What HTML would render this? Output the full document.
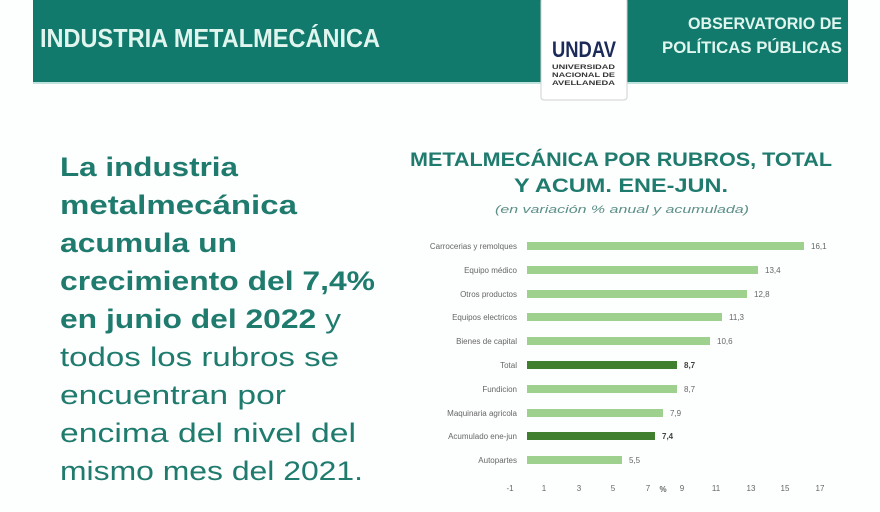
<!DOCTYPE html>
<html><head><meta charset="utf-8"><style>
html,body{margin:0;padding:0;background:#fff;width:880px;height:512px;overflow:hidden}
svg{display:block}
</style></head><body>
<svg width="880" height="512" viewBox="0 0 880 512" xmlns="http://www.w3.org/2000/svg" font-family="Liberation Sans, sans-serif">
<rect x="0" y="0" width="880" height="512" fill="#fdfefe"/>
<rect x="33" y="0" width="815" height="82" fill="#127a6c"/>
<rect x="33" y="82" width="815" height="2" fill="#bfe3dc"/>
<text x="40" y="47" font-size="26" font-weight="bold" fill="#dff5ee" textLength="340" lengthAdjust="spacingAndGlyphs">INDUSTRIA METALMECÁNICA</text>
<text x="842" y="29" font-size="17" font-weight="bold" fill="#dff5ee" text-anchor="end" textLength="154" lengthAdjust="spacingAndGlyphs">OBSERVATORIO DE</text>
<text x="842" y="53" font-size="17" font-weight="bold" fill="#dff5ee" text-anchor="end" textLength="180" lengthAdjust="spacingAndGlyphs">POLÍTICAS PÚBLICAS</text>
<rect x="541" y="-2" width="86" height="102" rx="3" fill="#fff" stroke="#d0d0d0"/>
<text x="552" y="57" font-size="22" font-weight="bold" fill="#1c2a5a" textLength="64" lengthAdjust="spacingAndGlyphs">UNDAV</text>
<text x="552" y="69" font-size="6" font-weight="bold" fill="#333" textLength="63" lengthAdjust="spacingAndGlyphs">UNIVERSIDAD</text>
<text x="552" y="77" font-size="6" font-weight="bold" fill="#333" textLength="63" lengthAdjust="spacingAndGlyphs">NACIONAL DE</text>
<text x="552" y="85" font-size="6" font-weight="bold" fill="#333" textLength="63" lengthAdjust="spacingAndGlyphs">AVELLANEDA</text>
<g font-size="27" fill="#1f7b6d">
<text x="60" y="176" font-weight="bold" textLength="178" lengthAdjust="spacingAndGlyphs">La industria</text>
<text x="60" y="214" font-weight="bold" textLength="237" lengthAdjust="spacingAndGlyphs">metalmecánica</text>
<text x="60" y="252" font-weight="bold" textLength="177" lengthAdjust="spacingAndGlyphs">acumula un</text>
<text x="60" y="290" font-weight="bold" textLength="315" lengthAdjust="spacingAndGlyphs">crecimiento del 7,4%</text>
<text x="60" y="328" textLength="281" lengthAdjust="spacingAndGlyphs"><tspan font-weight="bold">en junio del 2022</tspan> y</text>
<text x="60" y="366" textLength="279" lengthAdjust="spacingAndGlyphs">todos los rubros se</text>
<text x="60" y="404" textLength="226" lengthAdjust="spacingAndGlyphs">encuentran por</text>
<text x="60" y="442" textLength="296" lengthAdjust="spacingAndGlyphs">encima del nivel del</text>
<text x="60" y="480" textLength="303" lengthAdjust="spacingAndGlyphs">mismo mes del 2021.</text>
</g>
<text x="621" y="166" font-size="19" font-weight="bold" fill="#1f7b6d" text-anchor="middle" textLength="422" lengthAdjust="spacingAndGlyphs">METALMECÁNICA POR RUBROS, TOTAL</text>
<text x="621" y="192" font-size="19" font-weight="bold" fill="#1f7b6d" text-anchor="middle" textLength="214" lengthAdjust="spacingAndGlyphs">Y ACUM. ENE-JUN.</text>
<text x="622" y="213" font-size="11" font-style="italic" fill="#5b8f86" text-anchor="middle" textLength="254" lengthAdjust="spacingAndGlyphs">(en variación % anual y acumulada)</text>
<g font-size="8" fill="#666">
<g text-anchor="end">
<text x="517" y="249">Carrocerias y remolques</text>
<text x="517" y="273">Equipo médico</text>
<text x="517" y="297">Otros productos</text>
<text x="517" y="320">Equipos electricos</text>
<text x="517" y="344">Bienes de capital</text>
<text x="517" y="368">Total</text>
<text x="517" y="392">Fundicion</text>
<text x="517" y="416">Maquinaria agricola</text>
<text x="517" y="439">Acumulado ene-jun</text>
<text x="517" y="463">Autopartes</text>
</g>
<rect x="527" y="242" width="277" height="8" fill="#9fd18e"/>
<rect x="527" y="266" width="231" height="8" fill="#9fd18e"/>
<rect x="527" y="290" width="220" height="8" fill="#9fd18e"/>
<rect x="527" y="313" width="195" height="8" fill="#9fd18e"/>
<rect x="527" y="337" width="183" height="8" fill="#9fd18e"/>
<rect x="527" y="361" width="150" height="8" fill="#3f7f2e"/>
<rect x="527" y="385" width="150" height="8" fill="#9fd18e"/>
<rect x="527" y="409" width="136" height="8" fill="#9fd18e"/>
<rect x="527" y="432" width="128" height="8" fill="#3f7f2e"/>
<rect x="527" y="456" width="95" height="8" fill="#9fd18e"/>
<text x="811" y="249">16,1</text>
<text x="765" y="273">13,4</text>
<text x="754" y="297">12,8</text>
<text x="729" y="320">11,3</text>
<text x="717" y="344">10,6</text>
<text x="684" y="368" font-weight="bold" fill="#444">8,7</text>
<text x="684" y="392">8,7</text>
<text x="670" y="416">7,9</text>
<text x="662" y="439" font-weight="bold" fill="#444">7,4</text>
<text x="629" y="463">5,5</text>
<g text-anchor="middle">
<text x="510" y="491">-1</text><text x="544" y="491">1</text><text x="579" y="491">3</text><text x="613" y="491">5</text><text x="648" y="491">7</text><text x="682" y="491">9</text><text x="716" y="491">11</text><text x="751" y="491">13</text><text x="785" y="491">15</text><text x="820" y="491">17</text>
<text x="663" y="492" font-weight="bold">%</text>
</g>
</g>
</svg>
</body></html>
